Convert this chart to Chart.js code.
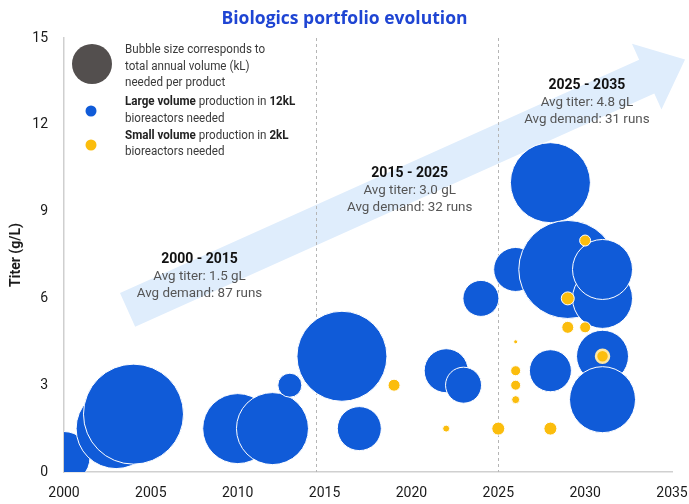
<!DOCTYPE html>
<html>
<head>
<meta charset="utf-8">
<script src="https://cdn.jsdelivr.net/npm/chart.js@4.4.0/dist/chart.umd.min.js"></script>
<style>
  html, body { margin: 0; padding: 0; background: #fff; }
  #wrap { width: 689px; height: 504px; }
</style>
</head>
<body>
<div id="wrap"><canvas id="chart"></canvas></div>
<script>
// Large volume products (12kL bioreactors): launch year, titer g/L, bubble size (annual volume)
const largeYear  = [2000, 2003, 2004, 2010, 2012, 2013, 2016, 2017, 2022, 2023, 2024, 2026, 2028, 2028, 2029, 2031, 2031, 2031, 2031];
const largeTiter = [0.5,  1.5,  2,    1.5,  1.5,  3,    4,    1.5,  3.5,  3,    6,    7,    3.5,  10,   7,    6,    7,    4,    2.5];
const largeSize  = [26,   40,   50,   35,   36,   12,   45,   22,   22,   18,   18,   22,   21,   40,   49,   30,   30,   26,   33];

// Small volume products (2kL bioreactors)
const smallYear  = [2019, 2022, 2025, 2026, 2026, 2026, 2026, 2028, 2030, 2029, 2029, 2030, 2031];
const smallTiter = [3,    1.5,  1.5,  4.5,  3.5,  3,    2.5,  1.5,  8,    6,    5,    5,    4];
const smallSize  = [6,    3.5,  6.5,  2,    5,    5,    4,    6.5,  5.5,  6.5,  6,    5.5,  6.5];

const xTicks = [2000, 2005, 2010, 2015, 2020, 2025, 2030, 2035];
const yTicks = [0, 3, 6, 9, 12, 15];

const periodNames   = ['2000 - 2015', '2015 - 2025', '2025 - 2035'];
const periodTiter   = ['1.5', '3.0', '4.8'];
const periodDemand  = [87, 32, 31];
const dividerYears  = [2014.5, 2025];

const BLUE = '#105bd8';
const YELLOW = '#fbbd0d';

// where the period captions sit (data units)
const periodAnchors = [[2007.8, 7.33], [2019.9, 10.3], [2030.1, 13.36]];
// trend arrow, start centre and tip (data units)
const arrowFrom = [2003.66, 5.6];
const arrowTo = [2035.75, 14.26];

const toPoints = (xs, ys, rs) => xs.map((x, i) => ({ x: x, y: ys[i], r: rs[i] }));

const legendLines = [
    [['Bubble size corresponds to', false]],
    [['total annual volume (kL)', false]],
    [['needed per product', false]],
    [['Large volume', true], [' production in ', false], ['12kL', true]],
    [['bioreactors needed', false]],
    [['Small volume', true], [' production in ', false], ['2kL', true]],
    [['bioreactors needed', false]]
];

const decorPlugin = {
    id: 'decor',
    beforeDatasetsDraw(chart) {
        const { ctx, chartArea, scales: { x, y } } = chart;
        // big trend arrow
        const p0 = [x.getPixelForValue(arrowFrom[0]), y.getPixelForValue(arrowFrom[1])];
        const p1 = [x.getPixelForValue(arrowTo[0]), y.getPixelForValue(arrowTo[1])];
        const len = Math.hypot(p1[0] - p0[0], p1[1] - p0[1]);
        const d = [(p1[0] - p0[0]) / len, (p1[1] - p0[1]) / len];
        const n = [-d[1], d[0]];
        const sh = 18.5, hh = 36, hl = 42;
        const b = [p1[0] - d[0] * hl, p1[1] - d[1] * hl];
        const pt = (o, k) => [o[0] + n[0] * k, o[1] + n[1] * k];
        const poly = [pt(p0, sh), pt(b, sh), pt(b, hh), p1, pt(b, -hh), pt(b, -sh), pt(p0, -sh)];
        ctx.save();
        ctx.fillStyle = '#dfedfc';
        ctx.beginPath();
        poly.forEach((p, i) => i ? ctx.lineTo(p[0], p[1]) : ctx.moveTo(p[0], p[1]));
        ctx.closePath();
        ctx.fill();

        // period dividers
        ctx.strokeStyle = '#b5b5b5';
        ctx.lineWidth = 1;
        ctx.setLineDash([3, 3]);
        dividerYears.forEach(yr => {
            const px = Math.round(x.getPixelForValue(yr)) + 0.5;
            ctx.beginPath();
            ctx.moveTo(px, chartArea.top);
            ctx.lineTo(px, chartArea.bottom);
            ctx.stroke();
        });
        ctx.restore();
    },
    afterDatasetsDraw(chart) {
        const { ctx, chartArea, scales: { x, y } } = chart;
        ctx.save();
        ctx.textAlign = 'center';
        ctx.textBaseline = 'middle';
        periodNames.forEach((name, i) => {
            const cx = x.getPixelForValue(periodAnchors[i][0]);
            const cy = y.getPixelForValue(periodAnchors[i][1]);
            ctx.fillStyle = '#111';
            ctx.font = 'bold 14px Roboto';
            ctx.fillText(name, cx, cy);
            ctx.fillStyle = '#555';
            ctx.font = '13.4px Roboto';
            ctx.fillText(`Avg titer: ${periodTiter[i]} gL`, cx, cy + 17);
            ctx.fillText(`Avg demand: ${periodDemand[i]} runs`, cx, cy + 34);
        });

        // legend block, top-left of plot
        const lx = chartArea.left, ly = chartArea.top;
        ctx.fillStyle = '#534f4e';
        ctx.beginPath(); ctx.arc(lx + 28, ly + 26, 20, 0, Math.PI * 2); ctx.fill();
        ctx.fillStyle = BLUE;
        ctx.beginPath(); ctx.arc(lx + 27, ly + 73, 5.5, 0, Math.PI * 2); ctx.fill();
        ctx.fillStyle = YELLOW;
        ctx.beginPath(); ctx.arc(lx + 27, ly + 107, 5.5, 0, Math.PI * 2); ctx.fill();

        // narrow-ish legend text: draw squeezed horizontally
        const lineY = [12, 28.7, 44.7, 64, 80.7, 98, 114];
        const squeeze = 0.93;
        ctx.textAlign = 'left';
        legendLines.forEach((parts, i) => {
            let tx = lx + 61;
            parts.forEach(([t, bold]) => {
                ctx.font = (bold ? 'bold ' : '') + '12.5px Roboto';
                ctx.fillStyle = bold ? '#222' : '#3a3a3a';
                ctx.save();
                ctx.translate(tx, ly + lineY[i]);
                ctx.scale(squeeze, 1);
                ctx.fillText(t, 0, 0);
                ctx.restore();
                tx += ctx.measureText(t).width * squeeze;
            });
        });
        ctx.restore();
    }
};

new Chart(document.getElementById('chart'), {
    type: 'bubble',
    data: {
        datasets: [
            {
                label: 'Large volume',
                data: toPoints(largeYear, largeTiter, largeSize),
                backgroundColor: BLUE,
                borderColor: '#ffffff',
                borderWidth: 1,
                order: 2
            },
            {
                label: 'Small volume',
                data: toPoints(smallYear, smallTiter, smallSize),
                backgroundColor: YELLOW,
                borderColor: ctx => (ctx.raw && ctx.raw.x === 2031 ? '#fde7a6' : '#ffffff'),
                borderWidth: ctx => (ctx.raw && ctx.raw.x === 2031 ? 2.5 : 1),
                order: 1
            }
        ]
    },
    options: {
        responsive: true,
        maintainAspectRatio: false,
        animation: false,
        devicePixelRatio: 1,
        layout: { autoPadding: false, padding: { left: 17, right: 17, top: 0, bottom: 0 } },
        plugins: {
            legend: { display: false },
            tooltip: { enabled: false },
            title: {
                display: true,
                text: 'Biologics portfolio evolution',
                color: '#1f45d3',
                font: { family: 'Open Sans', size: 17.5, weight: 'bold' },
                padding: { top: 9, bottom: 8 }
            }
        },
        scales: {
            x: {
                type: 'linear',
                min: 2000,
                max: 2035,
                afterBuildTicks: s => { s.ticks = xTicks.map(v => ({ value: v })); },
                ticks: {
                    callback: v => String(v),
                    color: '#1a1a1a',
                    font: { family: 'Roboto', size: 14 },
                    padding: 13,
                    maxRotation: 0
                },
                grid: { display: false, drawTicks: false },
                border: { color: '#d0d0d0', width: 1.5 },
                afterFit: s => { s.height = 32; s.paddingLeft = 0; s.paddingRight = 0; }
            },
            y: {
                min: 0,
                max: 15,
                afterBuildTicks: s => { s.ticks = yTicks.map(v => ({ value: v })); },
                ticks: {
                    color: '#1a1a1a',
                    font: { family: 'Roboto', size: 14 },
                    padding: 16
                },
                grid: { display: false, drawTicks: false },
                border: { color: '#cfcfcf', width: 1.5 },
                title: {
                    display: true,
                    text: 'Titer (g/L)',
                    color: '#1a1a1a',
                    font: { family: 'Roboto', size: 14, weight: 'bold' },
                    padding: { top: -8.5, bottom: 0 }
                },
                afterFit: s => { s.width = 47; }
            }
        }
    },
    plugins: [decorPlugin]
});
</script>
</body>
</html>
